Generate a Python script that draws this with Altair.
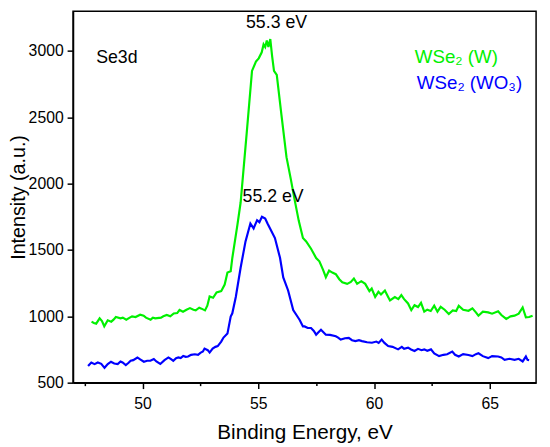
import altair as alt
import pandas as pd

# ---- data ----
green_energy = [47.8, 47.9, 48.0, 48.15, 48.25, 48.35, 48.5, 48.65, 48.75, 48.85, 49.05, 49.15, 49.3, 49.45,
                49.55, 49.7, 49.9, 50.05, 50.15, 50.35, 50.45, 50.55, 50.8, 50.9, 51.05, 51.2, 51.35, 51.5,
                51.6, 51.75, 51.9, 52.05, 52.2, 52.3, 52.45, 52.55, 52.7, 52.8, 52.9, 53.05, 53.2, 53.4,
                53.55, 53.67, 53.81, 53.88, 54.1, 54.24, 54.5, 54.73, 54.9, 55.02, 55.15, 55.23, 55.3,
                55.37, 55.44, 55.52, 55.6, 55.68, 55.8, 56.0, 56.22, 56.4, 56.57, 56.75, 56.93, 57.07,
                57.28, 57.5, 57.64, 57.8, 57.92, 58.06, 58.2, 58.35, 58.5, 58.63, 58.84, 59.0, 59.13,
                59.27, 59.45, 59.62, 59.8, 59.9, 60.05, 60.19, 60.3, 60.47, 60.6, 60.69, 60.9, 61.05,
                61.18, 61.3, 61.47, 61.61, 61.75, 61.9, 62.03, 62.17, 62.3, 62.45, 62.6, 62.74, 62.88,
                63.05, 63.23, 63.4, 63.55, 63.66, 63.85, 64.08, 64.25, 64.4, 64.51, 64.7, 64.93, 65.1,
                65.36, 65.5, 65.71, 65.9, 66.07, 66.25, 66.42, 66.56, 66.7, 66.85]
green_intensity = [960, 950, 945, 985, 965, 925, 970, 960, 975, 995, 985, 990, 975, 990,
                   1000, 995, 1012, 1005, 990, 975, 990, 985, 990, 1000, 1010, 1000, 1022, 1025,
                   1048, 1035, 1050, 1062, 1050, 1045, 1065, 1058, 1045, 1080, 1150, 1140, 1180, 1190,
                   1240, 1330, 1340, 1440, 1690, 1860, 2380, 2850, 2920, 2945, 2990, 3050, 3030,
                   3080, 3030, 3090, 2960, 2850, 2820, 2520, 2200, 2040, 1880, 1720, 1590, 1565,
                   1510, 1440, 1415, 1350, 1295, 1345, 1330, 1318, 1280, 1257, 1245, 1260, 1285,
                   1245, 1265, 1245, 1190, 1210, 1146, 1185, 1165, 1195, 1150, 1120, 1145, 1130,
                   1160, 1130, 1097, 1047, 1084, 1070, 1102, 1035, 1050, 1040, 1080, 1035, 1072,
                   1050, 1018, 1045, 1040, 1079, 1050, 1042, 1060, 1030, 1005, 1035, 1030, 1020,
                   1038, 1010, 981, 1000, 1005, 1020, 1067, 993, 995, 1005]

blue_energy = [47.65, 47.79, 47.93, 48.07, 48.22, 48.36, 48.5, 48.64, 48.78, 48.93, 49.05, 49.14, 49.28,
               49.4, 49.49, 49.6, 49.78, 49.9, 50.06, 50.2, 50.34, 50.49, 50.6, 50.77, 50.95, 51.12,
               51.22, 51.33, 51.45, 51.55, 51.65, 51.76, 51.87, 51.97, 52.1, 52.26, 52.4, 52.5, 52.61,
               52.68, 52.82, 52.9, 53.03, 53.15, 53.25, 53.4, 53.5, 53.67, 53.81, 53.88, 54.03, 54.24,
               54.45, 54.66, 54.8, 54.95, 55.05, 55.16, 55.3, 55.4, 55.51, 55.72, 55.94, 56.08, 56.29,
               56.51, 56.65, 56.79, 56.93, 57.0, 57.14, 57.28, 57.4, 57.5, 57.6, 57.71, 57.92, 58.1,
               58.35, 58.45, 58.56, 58.75, 58.91, 59.05, 59.2, 59.35, 59.48, 59.7, 59.91, 60.1, 60.2,
               60.33, 60.45, 60.61, 60.8, 61.04, 61.2, 61.3, 61.47, 61.6, 61.75, 61.9, 62.05, 62.17,
               62.3, 62.46, 62.6, 62.81, 63.0, 63.16, 63.38, 63.5, 63.66, 63.85, 64.08, 64.25, 64.4,
               64.51, 64.7, 64.93, 65.1, 65.36, 65.5, 65.64, 65.85, 66.07, 66.25, 66.42, 66.56, 66.63,
               66.7]
blue_intensity = [625, 652, 640, 652, 642, 612, 640, 658, 645, 640, 660, 652, 633,
                  650, 665, 670, 690, 675, 658, 665, 665, 678, 660, 641, 670, 690,
                  680, 665, 685, 690, 685, 702, 695, 697, 710, 714, 710, 725, 735,
                  757, 745, 727, 757, 770, 776, 810, 840, 870, 998, 1023, 1146, 1368,
                  1565, 1700, 1663, 1725, 1710, 1750, 1737, 1700, 1663, 1590, 1441, 1294, 1195,
                  1047, 1010, 973, 924, 924, 912, 912, 890, 862, 880, 899, 862, 860,
                  850, 840, 825, 835, 838, 820, 813, 820, 813, 805, 801, 810, 800,
                  825, 800, 776, 770, 751, 770, 755, 764, 750, 739, 755, 745, 751,
                  740, 751, 720, 700, 710, 714, 734, 710, 697, 715, 709, 700, 715,
                  722, 700, 685, 700, 697, 690, 672, 680, 672, 680, 660, 697, 672,
                  670]

x_ticks = [47.5, 50, 52.5, 55, 57.5, 60, 62.5, 65]
y_ticks = [500, 750, 1000, 1250, 1500, 1750, 2000, 2250, 2500, 2750, 3000, 3250]

FONT = "Liberation Sans"
GREEN = "#00f000"
BLUE = "#0000ff"

green_df = pd.DataFrame({"energy": green_energy, "intensity": green_intensity})
blue_df = pd.DataFrame({"energy": blue_energy, "intensity": blue_intensity})

x_scale = alt.Scale(domain=[47, 67], nice=False, zero=False)
y_scale = alt.Scale(domain=[500, 3300], nice=False, zero=False)

x_axis = alt.Axis(
    values=x_ticks,
    labelExpr="datum.value % 5 === 0 ? datum.label : ''",
    tickSize={"condition": {"test": "datum.value % 5 === 0", "value": 6}, "value": 3},
    tickWidth=1.5, tickColor="black", domainColor="black", domainWidth=1.5,
    grid=False, labelFontSize=16, labelColor="black", labelFont=FONT,
    labelPadding=7, title="Binding Energy, eV", titleFontSize=21, titleFontWeight="normal",
    titleFont=FONT, titleColor="black", titlePadding=11,
)
y_axis = alt.Axis(
    values=y_ticks,
    labelExpr="datum.value % 500 === 0 ? datum.label : ''",
    format="d",
    tickSize={"condition": {"test": "datum.value % 500 === 0", "value": 6}, "value": 3},
    tickWidth=1.5, tickColor="black", domainColor="black", domainWidth=1.5,
    grid=False, labelFontSize=16, labelColor="black", labelFont=FONT,
    labelPadding=4, title="Intensity (a.u.)", titleFontSize=20, titleFontWeight="normal",
    titleFont=FONT, titleColor="black", titlePadding=0,
)

green_line = alt.Chart(green_df).mark_line(stroke=GREEN, strokeWidth=2.2).encode(
    x=alt.X("energy:Q", scale=x_scale, axis=x_axis),
    y=alt.Y("intensity:Q", scale=y_scale, axis=y_axis),
)
blue_line = alt.Chart(blue_df).mark_line(stroke=BLUE, strokeWidth=2.2).encode(
    x=alt.X("energy:Q", scale=x_scale),
    y=alt.Y("intensity:Q", scale=y_scale),
)


def label(x, y, text, color="black", align="center", size=18):
    return alt.Chart(green_df.head(1)).mark_text(
        font=FONT, fontSize=size, color=color, align=align, baseline="alphabetic"
    ).encode(x=alt.datum(x), y=alt.datum(y), text=alt.value(text))


chart = alt.layer(
    green_line,
    blue_line,
    label(55.79, 3170, "55.3 eV"),
    label(55.64, 1860, "55.2 eV"),
    label(48.0, 2910, "Se3d", align="left"),
    label(61.76, 2910, "WSe₂ (W)", color=GREEN, align="left", size=19),
    label(61.85, 2712, "WSe₂ (WO₃)", color=BLUE, align="left", size=19),
).properties(
    width=470,
    height=377,
    autosize=alt.AutoSizeParams(type="none"),
    padding={"left": 66, "top": 0, "right": 6, "bottom": 62},
).configure_view(
    stroke="black", strokeWidth=1.5
)

chart.save("out.html", embed_options={"renderer": "svg", "actions": False})
